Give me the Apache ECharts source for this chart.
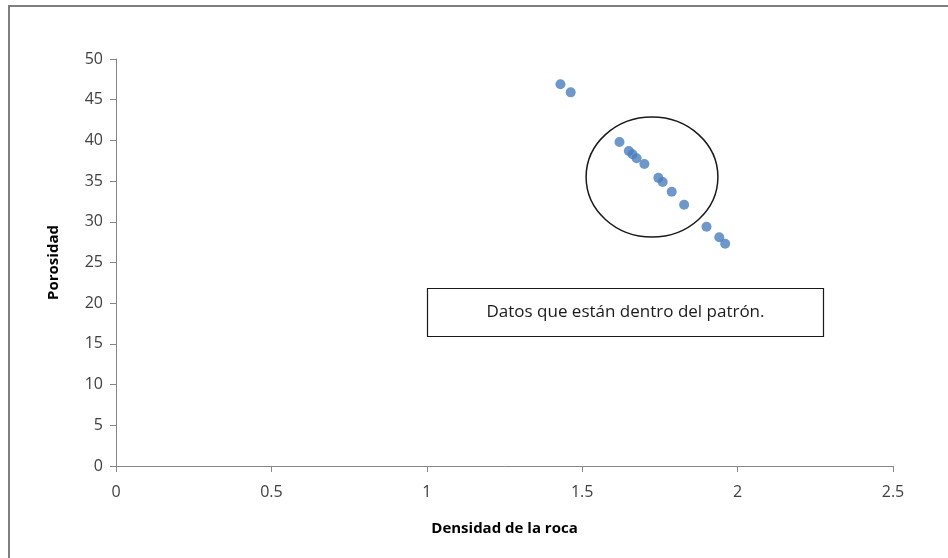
<!DOCTYPE html>
<html>
<head>
<meta charset="utf-8">
<script src="https://cdn.jsdelivr.net/npm/echarts@6/dist/echarts.min.js"></script>
<style>
html,body{margin:0;padding:0;background:#fff;}
#chart{width:948px;height:558px;}
</style>
</head>
<body>
<div id="chart"></div>
<script>
var densidad = [1.43, 1.463, 1.62, 1.65, 1.662, 1.675, 1.70, 1.745, 1.759, 1.788, 1.828, 1.90, 1.941, 1.96];
var porosidad = [46.9, 45.9, 39.8, 38.7, 38.3, 37.8, 37.1, 35.4, 34.9, 33.7, 32.1, 29.4, 28.1, 27.3];
var xTitle = 'Densidad de la roca';
var yTitle = 'Porosidad';
var noteText = 'Datos que están dentro del patrón.';

var points = densidad.map(function (d, i) { return [d, porosidad[i]]; });
var chart = echarts.init(document.getElementById('chart'));
var font = '"Open Sans", "Noto Sans", sans-serif';
chart.setOption({
  animation: false,
  backgroundColor: '#fff',
  grid: { left: 116, right: 55, top: 59, bottom: 92, containLabel: false },
  xAxis: {
    type: 'value', min: 0, max: 2.5, interval: 0.5,
    name: xTitle, nameLocation: 'middle', nameGap: 55,
    nameTextStyle: { fontFamily: font, fontWeight: 'bold', fontSize: 15, color: '#000' },
    axisLine: { show: true, lineStyle: { color: '#868686', width: 1 } },
    axisTick: { show: true, inside: false, length: 6, lineStyle: { color: '#868686' } },
    axisLabel: { fontFamily: font, fontSize: 16, color: '#404040', margin: 18 },
    splitLine: { show: false }
  },
  yAxis: {
    type: 'value', min: 0, max: 50, interval: 5,
    name: yTitle, nameLocation: 'middle', nameGap: 55, nameRotate: 90,
    nameTextStyle: { fontFamily: font, fontWeight: 'bold', fontSize: 15, color: '#000' },
    axisLine: { show: true, lineStyle: { color: '#868686', width: 1 } },
    axisTick: { show: true, inside: false, length: 6, lineStyle: { color: '#868686' } },
    axisLabel: { fontFamily: font, fontSize: 16, color: '#404040', margin: 13 },
    splitLine: { show: false }
  },
  series: [{
    type: 'scatter',
    data: points,
    symbol: 'circle',
    symbolSize: 10,
    itemStyle: { color: '#4a7ebb' }
  }]
});

var c = chart.convertToPixel({ gridIndex: 0 }, [1.7246, 35.5]);
var r1 = chart.convertToPixel({ gridIndex: 0 }, [1.7246 + 0.212, 35.5 + 7.37]);
chart.setOption({
  graphic: [
    { type: 'rect', shape: { x: 9, y: 6, width: 980, height: 600 },
      style: { fill: 'none', stroke: '#7f7f7f', lineWidth: 2 }, silent: true },
    { type: 'ellipse', shape: { cx: c[0], cy: c[1], rx: r1[0] - c[0], ry: c[1] - r1[1] },
      style: { fill: 'none', stroke: '#1a1a1a', lineWidth: 1.5 }, z: 10 },
    { type: 'rect', shape: { x: 427.5, y: 288.5, width: 396, height: 48 },
      style: { fill: '#fff', stroke: '#1a1a1a', lineWidth: 1.2 }, z: 10 },
    { type: 'text', x: 625.5, y: 312.5, z: 11,
      style: { text: noteText, fontFamily: font, fontSize: 17, fill: '#1a1a1a',
               textAlign: 'center', textVerticalAlign: 'middle' } }
  ]
});
</script>
</body>
</html>
